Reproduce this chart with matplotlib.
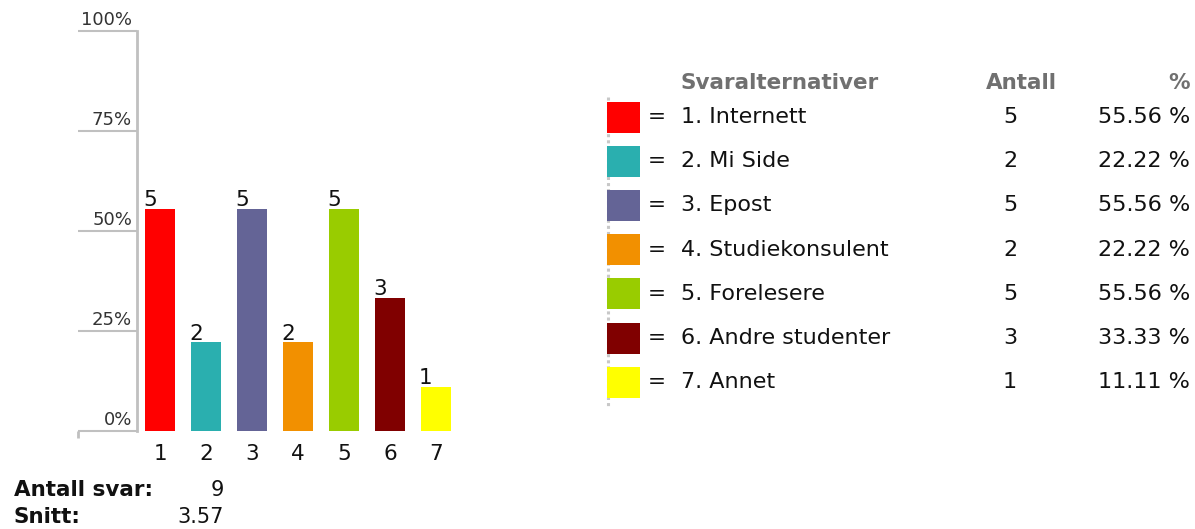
import matplotlib
matplotlib.use("Agg")
import matplotlib.pyplot as plt
from matplotlib.patches import Rectangle

# --- data -------------------------------------------------------------
options = ["1. Internett", "2. Mi Side", "3. Epost", "4. Studiekonsulent",
           "5. Forelesere", "6. Andre studenter", "7. Annet"]
bar_ticks = ["1", "2", "3", "4", "5", "6", "7"]
counts = [5, 2, 5, 2, 5, 3, 1]
percents = [55.56, 22.22, 55.56, 22.22, 55.56, 33.33, 11.11]
colors = ["#FF0000", "#2AAFAF", "#646496", "#F29000", "#99CC00", "#800000", "#FFFF00"]
y_ticks = [0, 25, 50, 75, 100]
y_tick_labels = ["0%", "25%", "50%", "75%", "100%"]
n_answers = 9
mean_value = "3.57"

# --- figure -----------------------------------------------------------
W, H = 1195, 529
DPI = 100
plt.rcParams["font.family"] = ["DejaVu Sans"]
fig = plt.figure(figsize=(W / DPI, H / DPI), dpi=DPI, facecolor="white")

AX_L, AX_R, AX_T, AX_B = 137, 460, 31, 431
ax = fig.add_axes([AX_L / W, (H - AX_B) / H, (AX_R - AX_L) / W, (AX_B - AX_T) / H])
positions = list(range(1, len(counts) + 1))
bar_w = 0.652
ax.bar(positions, percents, width=bar_w, color=colors, zorder=2)
ax.set_xlim(0.5, 7.52)
ax.set_ylim(0, 100)

for s in ["top", "right", "bottom"]:
    ax.spines[s].set_visible(False)
ax.spines["left"].set_color("#C0C0C0")
ax.spines["left"].set_linewidth(2)

ax.set_xticks(positions)
ax.set_xticklabels(bar_ticks, fontsize=15.5, color="#111111")
ax.tick_params(axis="x", length=0, pad=9)
ax.set_yticks([])

# y tick rules extending left of the axis, with labels sitting on them
ax_w_px = AX_R - AX_L
ax_h_px = AX_B - AX_T
ytr = ax.get_yaxis_transform()
x_rule = -59 / ax_w_px
for v, lab in zip(y_ticks, y_tick_labels):
    ax.plot([x_rule, 0], [v, v], transform=ytr, color="#C0C0C0", lw=1.5,
            clip_on=False, solid_capstyle="butt")
    ax.text(-5 / ax_w_px, v + 0.6, lab, transform=ytr, ha="right", va="bottom",
            fontsize=13, color="#333333")
ax.plot([x_rule, x_rule], [0, -7 / ax_h_px], transform=ax.transAxes,
        color="#C0C0C0", lw=2, clip_on=False, solid_capstyle="butt")

# count labels above each bar, aligned with its left edge
for p, pct, c in zip(positions, percents, counts):
    ax.annotate(str(c), (p - bar_w / 2, pct), xytext=(-1.5, -1),
                textcoords="offset points", ha="left", va="bottom",
                fontsize=15.5, color="#111111")

# --- overlay in pixel coordinates for the table and summary ----------
ov = fig.add_axes([0, 0, 1, 1], zorder=-1)
ov.set_xlim(0, W)
ov.set_ylim(H, 0)
ov.axis("off")

hdr_color = "#707070"
ov.text(681, 83, "Svaralternativer", fontsize=15.5, fontweight="bold",
        color=hdr_color, ha="left", va="center")
ov.text(1021, 83, "Antall", fontsize=15.5, fontweight="bold",
        color=hdr_color, ha="center", va="center")
ov.text(1190, 83, "%", fontsize=15.5, fontweight="bold",
        color=hdr_color, ha="right", va="center")

ov.plot([608, 608], [97, 408], color="#C8C8C8", lw=2.2,
        linestyle=(0, (1.0, 1.0)), zorder=1)

row0, row_step = 117, 44.2
for i, (lab, c, pct, col) in enumerate(zip(options, counts, percents, colors)):
    yc = row0 + i * row_step
    ov.add_patch(Rectangle((607, yc - 15.5), 33, 31, facecolor=col,
                           edgecolor="none", zorder=2))
    ov.text(657, yc, "=", fontsize=15.5, ha="center", va="center", color="#111111")
    ov.text(681, yc, lab, fontsize=16, ha="left", va="center", color="#111111")
    ov.text(1010, yc, str(c), fontsize=16, ha="center", va="center", color="#111111")
    ov.text(1190, yc, f"{pct:.2f} %", fontsize=16, ha="right", va="center",
            color="#111111")

ov.text(14, 490, "Antall svar:", fontsize=15.5, fontweight="bold",
        ha="left", va="center", color="#111111")
ov.text(224, 490, str(n_answers), fontsize=15, ha="right", va="center",
        color="#111111")
ov.text(14, 517, "Snitt:", fontsize=15.5, fontweight="bold",
        ha="left", va="center", color="#111111")
ov.text(224, 517, mean_value, fontsize=15, ha="right", va="center",
        color="#111111")

fig.savefig("out.png", dpi=DPI, facecolor="white")
